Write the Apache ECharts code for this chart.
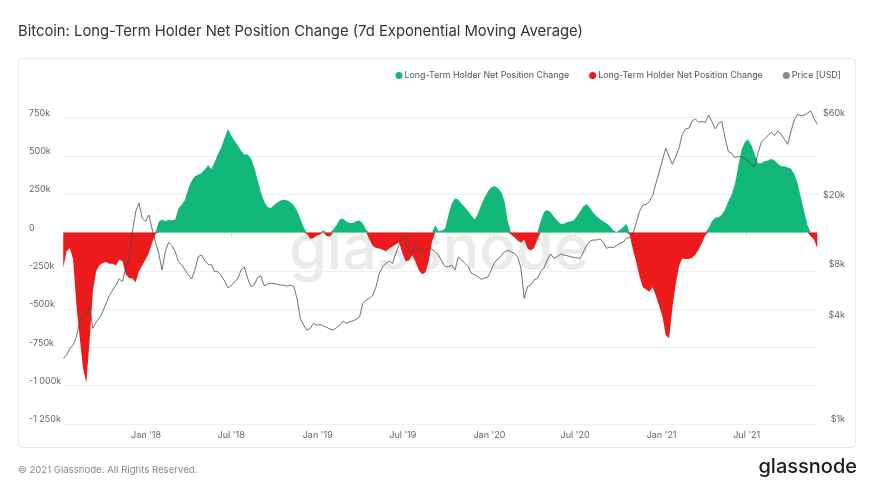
<!DOCTYPE html>
<html>
<head>
<meta charset="utf-8">
<script src="https://cdn.jsdelivr.net/npm/echarts@6/dist/echarts.min.js"></script>
<style>
  html, body { margin: 0; padding: 0; background: #fff; }
  #chart { width: 877px; height: 493px; }
</style>
</head>
<body>
<div id="chart"></div>
<script>
// weekly samples, first one on 9 Jul 2017
var startDate = new Date(2017, 6, 9).getTime();
var stepDays = 7;

// LTH net position change, thousands of BTC
var netChange = [
  -230, -122, -100, -176, -470, -687, -883, -980, -709, -383,
  -252, -213, -198, -193, -204, -204, -215, -178, -187, -274,
  -296, -300, -324, -252, -213, -176, -133, -67, -9, 70,
  85, 74, 83, 78, 85, 157, 183, 215, 287, 339,
  367, 378, 389, 411, 439, 415, 461, 513, 557, 617,
  678, 635, 600, 570, 535, 509, 509, 483, 426,
  346, 265, 204, 167, 161, 178, 196, 209, 215, 211, 198,
  178, 143, 91, 35, -9, -41, -35, -20, -13, 13,
  -24, -26, 17, 48, 89, 91, 72, 63, 63, 76,
  78, 59, 17, -46, -87, -100, -104, -113, -122, -104,
  -91, -78, -65, -133, -187, -183, -148, -191, -246, -274,
  -259, -187, -57, 48, 9, 13, 26,
  117, 191, 222, 215, 187, 165, 139, 109, 85, 128,
  183, 230, 270, 296, 302, 291, 265, 204, 74, -13,
  -30, -52, -67, -46, -104, -117, -100, -46, 74, 135,
  148, 135, 104, 78, 57, 57, 67, 74, 78, 107,
  139, 172, 187, 161, 128, 107, 87, 74, 59, 43,
  15, 3, 17, 35, 57,
  -13, -111, -191, -285, -357, -372, -387, -357, -415, -480,
  -552, -670, -690, -491, -339, -220, -170, -172, -172, -165,
  -143, -111, -67, -17, 30, 74, 96, 100, 117, 150,
  204, 248, 317, 433, 541, 591, 607, 570, 509, 452,
  452, 465, 470, 480, 472, 450, 433, 433, 426, 417,
  383, 324, 230, 139, 48, -24, -46, -100
];

// BTC price, USD
var price = [
  2400, 2510, 2750, 2870, 3210, 3920, 4250, 4450, 4800, 3590,
  3890, 4140, 4490, 5010, 5560, 6000, 6410, 6950, 6700, 8080,
  9160, 13070, 17080, 19100, 15630, 14950, 16350, 13550, 11350, 9800,
  7840, 10000, 11350, 10850, 10000, 8750, 8370, 7840, 7330, 6940,
  7840, 9360, 9580, 8830, 8450, 8370, 7660, 7660, 7260, 6760,
  6180, 6350, 6700, 6950, 7840, 8180, 7000, 6270, 6410,
  7060, 7260, 6350, 6490, 6550, 6550, 6460, 6400, 6400, 6310, 6400,
  6290, 5360, 4100, 3750, 3510, 3590, 3840, 3750, 3780, 3700,
  3640, 3560, 3510, 3620, 3750, 3960, 3840, 3920, 3970, 4050,
  4190, 5010, 5240, 5360, 5600, 6270, 7480, 8180, 8550, 8830,
  8550, 9770, 10930, 12390, 12220, 10230, 9770, 10840, 10000, 10090,
  10370, 10470, 10370, 10000, 9580, 8750, 8180,
  8180, 8370, 7840, 9330, 8960, 8550, 8180, 7480, 7330, 7160,
  6910, 7060, 7130, 7840, 8670, 9080, 9490, 10000, 10190, 10000,
  9770, 9360, 8000, 5360, 6270, 6410, 6860, 7000, 7660, 8080,
  8960, 9730, 9140, 9360, 9690, 9580, 9490, 9360, 9270, 9230,
  9140, 10000, 10940, 11540, 11700, 11700, 11860, 11350, 10470, 10650,
  10550, 10840, 11170, 11350, 11970,
  12070, 12790, 14620, 17100, 18680, 18840, 19530, 21170, 24960, 29170,
  34100, 39850, 35650, 32200, 35650, 39850, 48060, 51650, 52100, 57450,
  59000, 56440, 57000, 56440, 62200, 57000, 51650, 55700, 57000, 45600,
  38100, 37300, 35200, 35650, 35650, 34840, 33320, 31900, 31470, 37300,
  43250, 45200, 47230, 49400, 47230, 50250, 48060, 44980, 42070, 49750,
  58200, 62800, 61700, 62200, 63700, 65800, 59560, 54950
];

var tickDates = [
  new Date(2018, 0, 1), new Date(2018, 6, 1), new Date(2019, 0, 1), new Date(2019, 6, 1),
  new Date(2020, 0, 1), new Date(2020, 6, 1), new Date(2021, 0, 1), new Date(2021, 6, 1)
].map(function (d) { return d.getTime(); });
var tickLabels = ["Jan '18", "Jul '18", "Jan '19", "Jul '19", "Jan '20", "Jul '20", "Jan '21", "Jul '21"];

var priceTicks = [1000, 4000, 8000, 20000, 60000];

var nameUp = 'Long-Term Holder Net Position Change';
var nameDown = 'Long-Term Holder Net Position Change\u200b';
var namePrice = 'Price [USD]';

var font = 'Inter, "Open Sans", sans-serif';

function dayTime(i) {
  return startDate + i * stepDays * 86400000;
}

var upData = [], downData = [], priceData = [];
for (var i = 0; i < netChange.length; i++) {
  var t = dayTime(i);
  upData.push([t, Math.max(netChange[i], 0)]);
  downData.push([t, Math.min(netChange[i], 0)]);
  priceData.push([t, Math.log10(price[i])]);
}

function fmtK(v) {
  if (v === 0) return '0';
  var a = Math.abs(v);
  var s = a >= 1000 ? Math.floor(a / 1000) + ' ' + String(a % 1000).padStart(3, '0') : String(a);
  return (v < 0 ? '-' : '') + s + 'k';
}

function netSeries(name, color, data) {
  return {
    name: name, type: 'line', yAxisIndex: 0,
    symbol: 'none', showSymbol: false,
    itemStyle: { color: color },
    lineStyle: { width: 0, color: color },
    areaStyle: { color: color, opacity: 1 },
    data: data
  };
}

var chart = echarts.init(document.getElementById('chart'), null, { renderer: 'canvas' });

var option = {
  animation: false,
  backgroundColor: '#fff',
  textStyle: { fontFamily: font },
  title: {
    text: 'Bitcoin: Long-Term Holder Net Position Change (7d Exponential Moving Average)',
    left: 18,
    top: 24,
    padding: 0,
    textStyle: { fontSize: 14.8, fontWeight: 'normal', color: '#333', fontFamily: font }
  },
  legend: {
    right: 31,
    top: 66,
    icon: 'circle',
    itemWidth: 7,
    itemHeight: 7,
    itemGap: 20,
    textStyle: { fontSize: 8.9, color: '#555', fontFamily: font, padding: [0, 0, 0, -3] },
    data: [nameUp, nameDown, namePrice]
  },
  graphic: [
    {
      type: 'rect', z: -10, silent: true,
      shape: { x: 18.5, y: 58.5, width: 837, height: 389, r: 4 },
      style: { fill: '#fff', stroke: '#e8e8e8', lineWidth: 1 }
    },
    {
      type: 'text', z: 0, silent: true,
      left: 289, top: 220,
      style: { text: 'glassnode', fill: '#ebebeb', font: '500 61px ' + font }
    },
    {
      type: 'text', silent: true,
      left: 18, top: 465,
      style: { text: '\u00a9 2021 Glassnode. All Rights Reserved.', fill: '#888', font: '9.6px ' + font }
    },
    {
      type: 'text', silent: true,
      right: 20, top: 457,
      style: { text: 'glassnode', fill: '#1b1b1b', font: '500 20px ' + font }
    }
  ],
  grid: { left: 63, right: 59, top: 117.7, bottom: 69 },
  xAxis: {
    type: 'value',
    min: new Date(2017, 6, 8, 12).getTime(),
    max: new Date(2021, 10, 29, 12).getTime(),
    axisLine: { lineStyle: { color: '#e6e6e6' } },
    axisTick: { customValues: tickDates, length: 4, lineStyle: { color: '#dcdcdc' } },
    axisLabel: {
      customValues: tickDates,
      fontSize: 9, color: '#666', margin: 7, fontFamily: font,
      formatter: function (v) {
        var k = tickDates.indexOf(v);
        return k >= 0 ? tickLabels[k] : '';
      }
    },
    splitLine: { show: false }
  },
  yAxis: [
    {
      type: 'value',
      min: -1250, max: 750, interval: 250,
      axisLine: { show: false },
      axisTick: { show: false },
      splitLine: { lineStyle: { color: '#f0f0f0' } },
      axisLabel: {
        fontSize: 9, color: '#666', fontFamily: font,
        align: 'left', margin: 34, verticalAlign: 'bottom',
        formatter: fmtK
      }
    },
    {
      type: 'value',
      min: 3, max: Math.log10(60000),
      position: 'right',
      axisLine: { show: false },
      axisTick: { show: false },
      splitLine: { show: false },
      axisLabel: {
        customValues: priceTicks.map(function (p) { return Math.log10(p); }),
        fontSize: 9, color: '#666', fontFamily: font,
        align: 'right', margin: 27, verticalAlign: 'bottom',
        formatter: function (v) { return '$' + Math.round(Math.pow(10, v) / 1000) + 'k'; }
      }
    }
  ],
  series: [
    netSeries(nameUp, '#12b77a', upData),
    netSeries(nameDown, '#ec1a1a', downData),
    {
      name: namePrice, type: 'line', yAxisIndex: 1,
      showSymbol: false, symbol: 'none', z: 5, clip: false,
      itemStyle: { color: '#8a8a8a' },
      lineStyle: { color: '#4d4d4d', width: 0.8 },
      data: priceData
    }
  ]
};

chart.setOption(option);
</script>
</body>
</html>
